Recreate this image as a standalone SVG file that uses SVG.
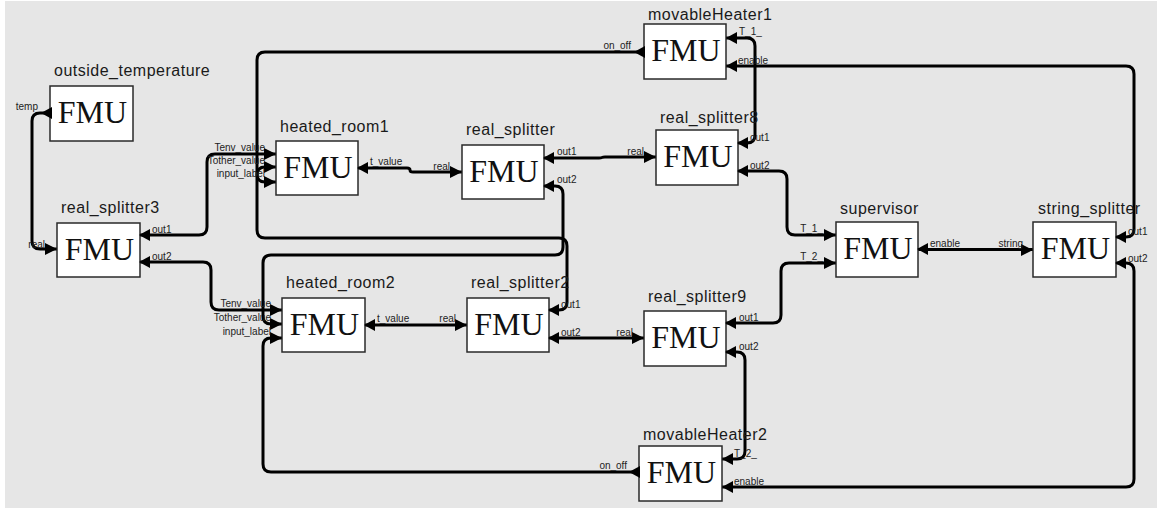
<svg xmlns="http://www.w3.org/2000/svg" xmlns:xlink="http://www.w3.org/1999/xlink" width="1157" height="508" viewBox="0 0 1157 508">
<style>
.box{fill:#fff;stroke:#2a2a2a;stroke-width:1.5}
.fmu{font-family:"Liberation Serif",serif;font-size:32px;fill:#111;text-anchor:middle}
.title{font-family:"Liberation Sans",Arial,sans-serif;font-size:16px;letter-spacing:0.5px;fill:#1a1a1a}
.lbl{font-family:"Liberation Sans",Arial,sans-serif;font-size:10px;fill:#222}
.lblr{font-family:"Liberation Sans",Arial,sans-serif;font-size:10px;fill:#222;text-anchor:end}
.wire{fill:none;stroke:#000;stroke-width:3;stroke-linejoin:round}
.port{fill:#000}
</style>
<defs>
<polygon id="pr" class="port" points="-12,-6 0,0 -12,6"/>
<polygon id="pl" class="port" points="0,0 11,-6 11,6"/>
</defs>
<rect x="0" y="0" width="1157" height="508" fill="#fff"/>
<rect x="5" y="1" width="1152" height="507" fill="#e6e6e6"/>
<g id="connectors">
<path class="wire" d="M50,113 H40 Q32,113 32,121 V241 Q32,249 40,249 H57"/>
<path class="wire" d="M140,235 H199 Q207,235 207,227 V162 Q207,154 215,154 H276"/>
<path class="wire" d="M140,262 H203 Q211,262 211,270 V302 Q211,310 219,310 H282"/>
<path class="wire" d="M358,168 H407 Q410,168 410,170 Q410,172 413,172 H462"/>
<path class="wire" d="M544,158 H599 Q601,158 602,157.5 Q603,157 605,157 H656"/>
<path class="wire" d="M544,186 H555 Q563,186 563,194 V247 Q563,255 555,255 H271 Q263,255 263,263 V316 Q263,324 271,324 H282"/>
<path class="wire" d="M549,310 H559 Q567,310 567,302 V246 Q567,238 559,238 H265 Q257,238 257,230 V175 Q257,167 265,167 H276"/>
<path class="wire" d="M644,52 H265 Q257,52 257,60 V174 Q257,182 265,182 H276"/>
<path class="wire" d="M639,472 H271 Q263,472 263,464 V346 Q263,338 271,338 H282"/>
<path class="wire" d="M365,325 H467"/>
<path class="wire" d="M549,338 H644"/>
<path class="wire" d="M738,143 H747 Q755,143 755,135 V46 Q755,38 747,38 H726"/>
<path class="wire" d="M738,171 H779 Q787,171 787,179 V227 Q787,235 795,235 H836"/>
<path class="wire" d="M726,323 H773 Q781,323 781,315 V271 Q781,263 789,263 H836"/>
<path class="wire" d="M726,352 H737 Q745,352 745,360 V451 Q745,459 737,459 H722"/>
<path class="wire" d="M918,249.5 H1033"/>
<path class="wire" d="M1116,237 H1126 Q1134,237 1134,229 V74 Q1134,66 1126,66 H726"/>
<path class="wire" d="M1116,263 H1126 Q1134,263 1134,271 V479 Q1134,487 1126,487 H722"/>
</g>
<g id="outside_temperature">
<text class="title" x="54" y="76">outside_temperature</text>
<rect class="box" x="50" y="86" width="83" height="55"/>
<text class="fmu" x="92.5" y="123">FMU</text>
<use xlink:href="#pl" x="41" y="113"/>
<text class="lblr" x="38" y="110">temp</text>
</g>
<g id="real_splitter3">
<text class="title" x="61" y="213">real_splitter3</text>
<rect class="box" x="57" y="223" width="83" height="54"/>
<text class="fmu" x="99.5" y="260">FMU</text>
<use xlink:href="#pr" x="57" y="249"/>
<use xlink:href="#pl" x="139" y="235"/>
<use xlink:href="#pl" x="139" y="262"/>
<text class="lblr" x="45" y="248">real</text>
<text class="lbl" x="152" y="233">out1</text>
<text class="lbl" x="152" y="260">out2</text>
</g>
<g id="heated_room1">
<text class="title" x="280" y="132">heated_room1</text>
<rect class="box" x="276" y="141" width="82" height="54"/>
<text class="fmu" x="318" y="178">FMU</text>
<use xlink:href="#pr" x="276" y="154"/>
<use xlink:href="#pr" x="276" y="167"/>
<use xlink:href="#pr" x="276" y="182"/>
<use xlink:href="#pl" x="357" y="168"/>
<text class="lblr" x="265" y="151">Tenv_value</text>
<text class="lblr" x="265" y="164">Tother_value</text>
<text class="lblr" x="265" y="177">input_label</text>
<text class="lbl" x="370" y="165">t_value</text>
</g>
<g id="real_splitter">
<text class="title" x="466" y="135">real_splitter</text>
<rect class="box" x="462" y="145" width="82" height="54"/>
<text class="fmu" x="504" y="182">FMU</text>
<use xlink:href="#pr" x="462" y="172"/>
<use xlink:href="#pl" x="543" y="158"/>
<use xlink:href="#pl" x="543" y="186"/>
<text class="lblr" x="450" y="170">real</text>
<text class="lbl" x="557" y="155">out1</text>
<text class="lbl" x="557" y="183">out2</text>
</g>
<g id="heated_room2">
<text class="title" x="286" y="288">heated_room2</text>
<rect class="box" x="282" y="298" width="83" height="54"/>
<text class="fmu" x="324.5" y="335">FMU</text>
<use xlink:href="#pr" x="282" y="310"/>
<use xlink:href="#pr" x="282" y="324"/>
<use xlink:href="#pr" x="282" y="338"/>
<use xlink:href="#pl" x="364" y="325"/>
<text class="lblr" x="271" y="307">Tenv_value</text>
<text class="lblr" x="271" y="321">Tother_value</text>
<text class="lblr" x="271" y="335">input_label</text>
<text class="lbl" x="377" y="322">t_value</text>
</g>
<g id="real_splitter2">
<text class="title" x="471" y="288">real_splitter2</text>
<rect class="box" x="467" y="298" width="82" height="54"/>
<text class="fmu" x="509" y="335">FMU</text>
<use xlink:href="#pr" x="467" y="325"/>
<use xlink:href="#pl" x="548" y="310"/>
<use xlink:href="#pl" x="548" y="338"/>
<text class="lblr" x="456" y="322">real</text>
<text class="lbl" x="561" y="308">out1</text>
<text class="lbl" x="561" y="336">out2</text>
</g>
<g id="movableHeater1">
<text class="title" x="648" y="20">movableHeater1</text>
<rect class="box" x="644" y="24" width="82" height="55"/>
<text class="fmu" x="686" y="61">FMU</text>
<use xlink:href="#pl" x="634" y="52"/>
<use xlink:href="#pl" x="726" y="38"/>
<use xlink:href="#pl" x="726" y="66"/>
<text class="lblr" x="631" y="49">on_off</text>
<text class="lbl" x="739" y="35">T_1_</text>
<text class="lbl" x="738" y="64">enable</text>
</g>
<g id="real_splitter8">
<text class="title" x="660" y="123">real_splitter8</text>
<rect class="box" x="656" y="130" width="82" height="55"/>
<text class="fmu" x="698" y="167">FMU</text>
<use xlink:href="#pr" x="656" y="157"/>
<use xlink:href="#pl" x="737" y="143"/>
<use xlink:href="#pl" x="737" y="171"/>
<text class="lblr" x="644" y="155">real</text>
<text class="lbl" x="750" y="141">out1</text>
<text class="lbl" x="750" y="169">out2</text>
</g>
<g id="real_splitter9">
<text class="title" x="648" y="302">real_splitter9</text>
<rect class="box" x="644" y="311" width="82" height="55"/>
<text class="fmu" x="686" y="348">FMU</text>
<use xlink:href="#pr" x="644" y="338"/>
<use xlink:href="#pl" x="725" y="323"/>
<use xlink:href="#pl" x="725" y="352"/>
<text class="lblr" x="633" y="336">real</text>
<text class="lbl" x="739" y="321">out1</text>
<text class="lbl" x="739" y="350">out2</text>
</g>
<g id="movableHeater2">
<text class="title" x="643" y="440">movableHeater2</text>
<rect class="box" x="639" y="446" width="83" height="55"/>
<text class="fmu" x="681.5" y="483">FMU</text>
<use xlink:href="#pl" x="629" y="472"/>
<use xlink:href="#pl" x="722" y="459"/>
<use xlink:href="#pl" x="722" y="487"/>
<text class="lblr" x="627" y="469">on_off</text>
<text class="lbl" x="734" y="457">T_2_</text>
<text class="lbl" x="734" y="485">enable</text>
</g>
<g id="supervisor">
<text class="title" x="840" y="214">supervisor</text>
<rect class="box" x="836" y="222" width="82" height="55"/>
<text class="fmu" x="878" y="259">FMU</text>
<use xlink:href="#pr" x="836" y="235"/>
<use xlink:href="#pr" x="836" y="263"/>
<use xlink:href="#pl" x="917" y="249"/>
<text class="lblr" x="823" y="232">T_1_</text>
<text class="lblr" x="823" y="260">T_2_</text>
<text class="lbl" x="930" y="247">enable</text>
</g>
<g id="string_splitter">
<text class="title" x="1038" y="214">string_splitter</text>
<rect class="box" x="1033" y="222" width="83" height="55"/>
<text class="fmu" x="1075.5" y="259">FMU</text>
<use xlink:href="#pr" x="1033" y="250"/>
<use xlink:href="#pl" x="1115" y="237"/>
<use xlink:href="#pl" x="1115" y="263"/>
<text class="lblr" x="1023" y="247">string</text>
<text class="lbl" x="1128" y="235">out1</text>
<text class="lbl" x="1128" y="262">out2</text>
</g>
</svg>
